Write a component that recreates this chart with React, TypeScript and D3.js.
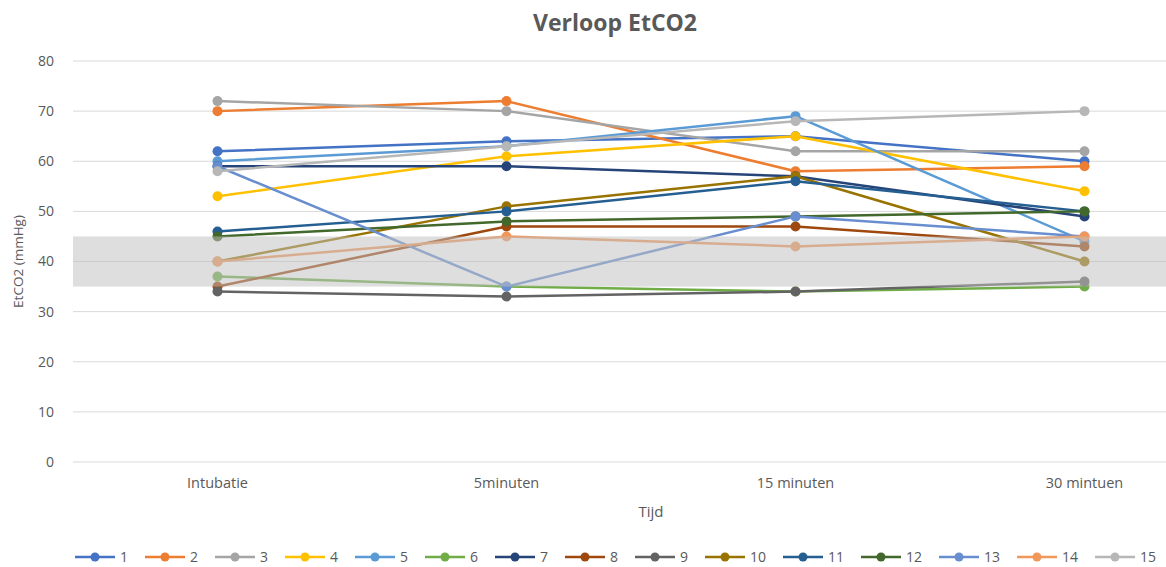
import * as d3 from "d3";

const categories = ["Intubatie", "5minuten", "15 minuten", "30 mintuen"];
const seriesNames = ["1", "2", "3", "4", "5", "6", "7", "8", "9", "10", "11", "12", "13", "14", "15"];
const seriesColors = [
  "#4472C4", "#ED7D31", "#A5A5A5", "#FFC000", "#5B9BD5", "#70AD47", "#264478", "#9E480E",
  "#636363", "#997300", "#255E91", "#43682B", "#698ED0", "#F1975A", "#B7B7B7",
];
const seriesValues = [
  [62, 64, 65, 60],
  [70, 72, 58, 59],
  [72, 70, 62, 62],
  [53, 61, 65, 54],
  [60, 63, 69, 44],
  [37, 35, 34, 35],
  [59, 59, 57, 49],
  [35, 47, 47, 43],
  [34, 33, 34, 36],
  [40, 51, 57, 40],
  [46, 50, 56, 50],
  [45, 48, 49, 50],
  [59, 35, 49, 45],
  [40, 45, 43, 45],
  [58, 63, 68, 70],
];
const yTicks = [0, 10, 20, 30, 40, 50, 60, 70, 80];
const normalRange = [35, 45];

const W = 1166;
const H = 567;
// the original chart was wider; the right edge is cropped
const plot = { left: 73, right: 1229, top: 61, bottom: 462 };
const textColor = "#595959";
const font = "'Open Sans', sans-serif";

export default function App() {
  const x = d3.scalePoint<string>().domain(categories).range([plot.left, plot.right]).padding(0.5);
  const y = d3.scaleLinear().domain([0, 80]).range([plot.bottom, plot.top]);
  const line = d3
    .line<number>()
    .x((_, i) => x(categories[i])!)
    .y((d) => y(d));

  // legend layout
  let lx = 75;
  const legendItems = seriesNames.map((name, i) => {
    const item = { name, color: seriesColors[i], x: lx };
    lx += 45 + name.length * 8 + 17;
    return item;
  });

  return (
    <div style={{ position: "fixed", left: 0, top: 0, width: W, height: H, background: "#fff" }}>
      <svg width={W} height={H} style={{ display: "block" }}>
        <text
          x={615}
          y={31}
          textAnchor="middle"
          style={{ font: `bold 23px ${font}`, fill: textColor }}
        >
          Verloop EtCO2
        </text>

        {/* gridlines */}
        {yTicks.map((t) => (
          <g key={t}>
            <line x1={plot.left} x2={plot.right} y1={y(t)} y2={y(t)} stroke="#d9d9d9" strokeWidth={1} />
            <text
              x={54}
              y={y(t)}
              dy="0.35em"
              textAnchor="end"
              style={{ font: `14px ${font}`, fill: textColor }}
            >
              {t}
            </text>
          </g>
        ))}

        {categories.map((c) => (
          <text
            key={c}
            x={x(c)}
            y={483}
            dy="0.35em"
            textAnchor="middle"
            style={{ font: `14.5px ${font}`, fill: textColor }}
          >
            {c}
          </text>
        ))}

        <text
          x={651}
          y={512}
          dy="0.35em"
          textAnchor="middle"
          style={{ font: `15px ${font}`, fill: textColor }}
        >
          Tijd
        </text>
        <text
          transform={`translate(18,${(plot.top + plot.bottom) / 2}) rotate(-90)`}
          dy="0.35em"
          textAnchor="middle"
          style={{ font: `13.5px ${font}`, fill: textColor }}
        >
          EtCO2 (mmHg)
        </text>

        {/* series */}
        {seriesValues.map((vals, i) => (
          <g key={i}>
            <path d={line(vals) ?? ""} fill="none" stroke={seriesColors[i]} strokeWidth={2.5} strokeLinejoin="round" />
            {vals.map((v, j) => (
              <circle key={j} cx={x(categories[j])} cy={y(v)} r={5} fill={seriesColors[i]} />
            ))}
          </g>
        ))}

        {/* normal range band, drawn over the lines */}
        <rect
          x={plot.left}
          width={plot.right - plot.left}
          y={y(normalRange[1])}
          height={y(normalRange[0]) - y(normalRange[1])}
          fill="#bfbfbf"
          fillOpacity={0.52}
        />

        {/* legend */}
        {legendItems.map((it) => (
          <g key={it.name} transform={`translate(${it.x},557)`}>
            <line x1={0} x2={40} y1={0} y2={0} stroke={it.color} strokeWidth={2.5} />
            <circle cx={20} cy={0} r={4.5} fill={it.color} />
            <text x={45} y={0} dy="0.35em" style={{ font: `14px ${font}`, fill: textColor }}>
              {it.name}
            </text>
          </g>
        ))}
      </svg>
    </div>
  );
}
